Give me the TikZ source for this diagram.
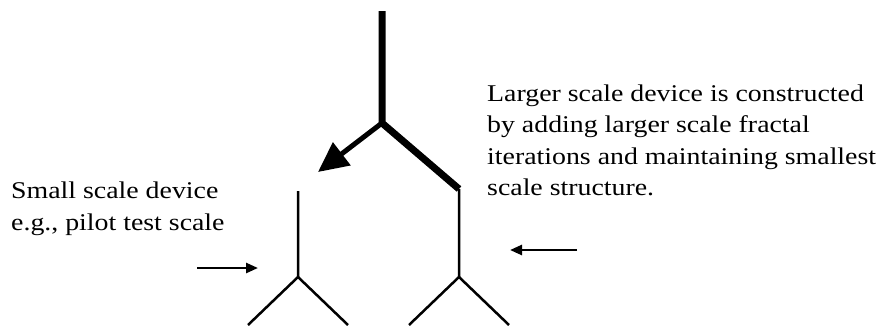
\documentclass[tikz,border=0pt]{standalone}
\usepackage{fontspec}
\setmainfont{Liberation Serif}[FakeStretch=1.16]
\usetikzlibrary{arrows.meta}

\begin{document}
\begin{tikzpicture}[
  x=1pt, y=-1pt,
  note/.style={align=left, inner sep=0pt, anchor=base west, font=\fontsize{24}{31.5}\selectfont},
  trunk/.style={line width=7pt},
  twig/.style={line width=2.5pt},
  pointer/.style={-{Triangle[length=12pt,width=10pt]}, line width=2.5pt},
  growarrow/.style={-{Triangle[length=30pt,width=28pt]}, line width=5pt}
]
\useasboundingbox (0,0) rectangle (885,330);

% large device: thick trunk, thin smallest-scale fork
\coordinate (top) at (382,11);
\coordinate (fork) at (382,123);
\coordinate (bend) at (459,189);
\coordinate (lfork) at (459,277);
\coordinate (lleft) at (409,325);
\coordinate (lright) at (509,325);

% small device
\coordinate (sstem) at (298,191);
\coordinate (sfork) at (298,277);
\coordinate (sleft) at (248,325);
\coordinate (sright) at (348,325);

\coordinate (tip) at (318,172);
\coordinate (spa) at (197,268);
\coordinate (spb) at (258,268);
\coordinate (lpa) at (577,250);
\coordinate (lpb) at (510,250);

\draw[trunk] (top) -- (fork) -- (bend);
\draw[twig] (bend) -- (lfork) -- (lleft);
\draw[twig] (lfork) -- (lright);
\draw[twig] (sstem) -- (sfork) -- (sleft);
\draw[twig] (sfork) -- (sright);

\draw[growarrow] (fork) -- (tip);
\draw[pointer] (spa) -- (spb);
\draw[pointer] (lpa) -- (lpb);

\node[note] (small) at (11,230) {Small scale device\\e.g., pilot test scale};
\node[note] (large) at (487,195.5) {Larger scale device is constructed\\by adding larger scale fractal\\iterations and maintaining smallest\\scale structure.};
\end{tikzpicture}
\end{document}
